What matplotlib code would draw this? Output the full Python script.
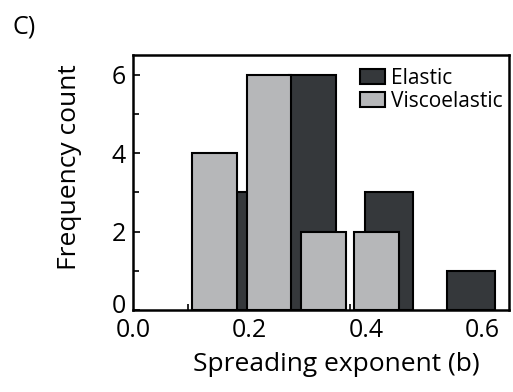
import matplotlib
matplotlib.use('Agg')
import matplotlib.pyplot as plt
import numpy as np
from matplotlib.transforms import ScaledTranslation

plt.rcParams['font.family'] = ['Open Sans', 'DejaVu Sans']

# histogram bars
elasticCenters = [0.172, 0.308, 0.440, 0.580]
elasticCounts = [3, 6, 3, 1]
viscoCenters = [0.140, 0.234, 0.327, 0.418]
viscoCounts = [4, 6, 2, 2]
barWidth = 0.076

fig = plt.figure(figsize=(5.13, 3.92), dpi=100)
ax = fig.add_axes([0.259, 0.209, 0.733, 0.651])

ax.bar(elasticCenters, elasticCounts, width=0.082, color='#35383b',
       edgecolor='black', linewidth=1.5, label='Elastic', zorder=2)
ax.bar(viscoCenters, viscoCounts, width=barWidth, color='#b6b7b9',
       edgecolor='black', linewidth=1.5, label='Viscoelastic', zorder=3)

ax.set_xlim(0, 0.645)
ax.set_ylim(0, 6.5)
ax.set_xticks([0.0, 0.2, 0.4, 0.6])
ax.set_xticklabels(['0.0', '0.2', '0.4', '0.6'])
ax.set_xticks(np.arange(0.094, 0.6, 0.0927), minor=True)
ax.set_yticks([0, 2, 4, 6])
ax.set_yticks([1, 3, 5], minor=True)
ax.tick_params(which='both', direction='in', labelsize=18, width=1.2)
ax.tick_params(which='major', length=5)
ax.tick_params(which='minor', length=4)
ax.tick_params(axis='x', which='major', length=0, pad=6)
ax.tick_params(axis='y', which='major', pad=5)
for s in ax.spines.values():
    s.set_linewidth(1.8)

# the "0" label sits a little higher than its tick
lbl0 = ax.get_yticklabels()[0]
lbl0.set_transform(lbl0.get_transform() + ScaledTranslation(0, 7 / 100, fig.dpi_scale_trans))

ax.set_xlabel('Spreading exponent (b)', fontsize=19)
ax.xaxis.set_label_coords(0.54, -0.165)
ax.set_ylabel('Frequency count', fontsize=19)
ax.yaxis.set_label_coords(-0.135, 0.56)

ax.legend(loc='upper right', bbox_to_anchor=(1.0, 0.975), fontsize=15,
          frameon=False, handlelength=1.2, handleheight=0.75,
          handletextpad=0.3, labelspacing=0.12,
          borderaxespad=0.1, borderpad=0.2)

fig.text(0.025, 0.915, 'C)', fontsize=18)

fig.savefig('out.png', dpi=100)
